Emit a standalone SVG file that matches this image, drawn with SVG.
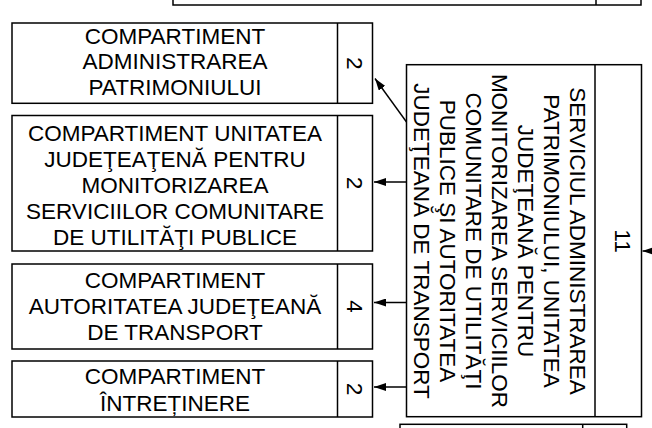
<svg xmlns="http://www.w3.org/2000/svg" width="652" height="428" viewBox="0 0 652 428">
<style>
.box{fill:#fff;stroke:#000;stroke-width:1.5}
.div{stroke:#000;stroke-width:1.5}
.t{font-family:"Liberation Sans",Arial,sans-serif;font-size:22.5px;fill:#000;text-anchor:middle}
.c{stroke:#000;stroke-width:1.4;fill:none;marker-end:url(#ah)}
</style>
<defs>
<marker id="ah" markerUnits="userSpaceOnUse" markerWidth="12" markerHeight="8" refX="12" refY="4" orient="auto">
<path d="M0,0 L12,4 L0,8 z" fill="#000"/>
</marker>
</defs>
<g id="top-box">
<rect class="box" x="173" y="-20" width="468" height="25"/>
<line class="div" x1="596" y1="-20" x2="596" y2="5"/>
</g>
<g id="n1">
<rect class="box" x="12" y="23" width="360.5" height="80.3"/>
<line class="div" x1="337.5" y1="23" x2="337.5" y2="103.3"/>
<text class="t" x="175" y="43.5">COMPARTIMENT</text>
<text class="t" x="175" y="69.3">ADMINISTRAREA</text>
<text class="t" x="175" y="95">PATRIMONIULUI</text>
<text class="t" transform="translate(355,63.2) rotate(90)" y="8">2</text>
</g>
<g id="n2">
<rect class="box" x="12" y="115.5" width="360.5" height="135.5"/>
<line class="div" x1="337.5" y1="115.5" x2="337.5" y2="251"/>
<text class="t" x="175" y="141">COMPARTIMENT UNITATEA</text>
<text class="t" x="175" y="167">JUDEŢEAŢENĂ PENTRU</text>
<text class="t" x="175" y="193">MONITORIZAREA</text>
<text class="t" x="175" y="219">SERVICIILOR COMUNITARE</text>
<text class="t" x="175" y="245">DE UTILITĂŢI PUBLICE</text>
<text class="t" transform="translate(355,183) rotate(90)" y="8">2</text>
</g>
<g id="n3">
<rect class="box" x="12" y="264" width="360.5" height="85"/>
<line class="div" x1="337.5" y1="264" x2="337.5" y2="349"/>
<text class="t" x="175" y="288.3">COMPARTIMENT</text>
<text class="t" x="175" y="314">AUTORITATEA JUDEŢEANĂ</text>
<text class="t" x="175" y="340">DE TRANSPORT</text>
<text class="t" transform="translate(355,306.5) rotate(90)" y="8">4</text>
</g>
<g id="n4">
<rect class="box" x="12" y="361" width="360.5" height="56"/>
<line class="div" x1="337.5" y1="361" x2="337.5" y2="417"/>
<text class="t" x="175" y="384.3">COMPARTIMENT</text>
<text class="t" x="175" y="410.5">ÎNTREȚINERE</text>
<text class="t" transform="translate(355,389) rotate(90)" y="8">2</text>
</g>
<g id="main">
<rect class="box" x="406.5" y="64.7" width="235" height="352"/>
<line class="div" x1="595" y1="64.7" x2="595" y2="416.7"/>
<g transform="translate(500,241) rotate(90)">
<text class="t" x="0" y="-70">SERVICIUL ADMINISTRAREA</text>
<text class="t" x="0" y="-44">PATRIMONIULUI, UNITATEA</text>
<text class="t" x="0" y="-18">JUDEŢEANĂ PENTRU</text>
<text class="t" x="0" y="8">MONITORIZAREA SERVICIILOR</text>
<text class="t" x="0" y="34">COMUNITARE DE UTILITĂŢI</text>
<text class="t" x="0" y="60">PUBLICE ŞI AUTORITATEA</text>
<text class="t" x="0" y="86">JUDEŢEANĂ DE TRANSPORT</text>
</g>
<text class="t" transform="translate(623,241) rotate(90)" y="8">11</text>
</g>
<g id="bottom-box">
<rect class="box" x="400" y="424.3" width="226.7" height="20"/>
<line class="div" x1="582.7" y1="424.3" x2="582.7" y2="444"/>
</g>
<g id="connectors">
<line class="c" x1="406.5" y1="122" x2="375" y2="78.5"/>
<line class="c" x1="406.5" y1="182" x2="374" y2="182"/>
<line class="c" x1="406.5" y1="302.5" x2="374" y2="302.5"/>
<line class="c" x1="406.5" y1="387" x2="374" y2="387"/>
<line class="c" x1="665" y1="251" x2="642.5" y2="251"/>
</g>
</svg>
